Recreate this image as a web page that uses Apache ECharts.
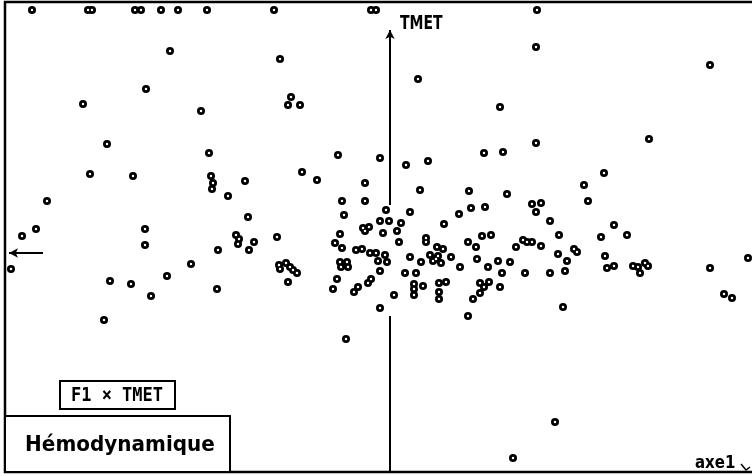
<!DOCTYPE html>
<html>
<head>
<meta charset="utf-8">
<script src="https://cdn.jsdelivr.net/npm/echarts@6/dist/echarts.min.js"></script>
<style>
html,body{margin:0;padding:0;background:#fff;}
#chart{width:752px;height:476px;}
</style>
</head>
<body>
<div id="chart"></div>
<script>
// Axis ranges (F1 = axe1, horizontal; TMET vertical)
const xRange = [-3.85, 3.62];
const yRange = [-2.19, 2.51];

// Individuals clipped at the top of the frame: [F1, TMET]
const topRow = [
  [-3.58,2.43],[-3.02,2.43],[-2.98,2.43],[-2.55,2.43],[-2.49,2.43],[-2.29,2.43],
  [-2.12,2.43],[-1.83,2.43],[-1.16,2.43],[-0.19,2.43],[-0.14,2.43],[1.47,2.43]
];

// Left half individuals (F1 < 0)
const leftPoints = [
  [-2.20,2.02],[-1.10,1.94],[-2.44,1.64],[-3.07,1.49],[-1.89,1.42],[-0.99,1.56],
  [-1.02,1.48],[-0.90,1.48],[-2.83,1.09],[-1.81,1.00],[-0.52,0.98],[-0.10,0.95],
  [-3.00,0.79],[-2.57,0.77],[-3.43,0.52],[-1.79,0.77],[-1.77,0.70],[-1.78,0.64],
  [-1.45,0.72],[-1.62,0.57],[-0.88,0.81],[-0.73,0.73],[-0.25,0.70],[-0.48,0.52],
  [-0.25,0.52],[-0.46,0.38],[-0.10,0.32],[-0.01,0.32],[-1.42,0.36],[-3.54,0.24],
  [-3.68,0.17],[-2.45,0.24],[-2.45,0.08],[-3.79,-0.16],[-1.54,0.18],[-1.51,0.14],
  [-1.52,0.09],[-1.36,0.11],[-1.41,0.03],[-1.72,0.03],[-1.13,0.16],[-0.27,0.25],
  [-0.21,0.26],[-0.25,0.22],[-0.50,0.19],[-0.55,0.10],[-0.48,0.05],[-0.34,0.03],
  [-0.28,0.04],[-0.20,0.00],[-0.14,0.00],[-0.12,-0.08],[-0.50,-0.09],[-0.43,-0.09],
  [-0.49,-0.14],[-0.42,-0.14],[-1.11,-0.12],[-1.10,-0.16],[-1.04,-0.10],[-1.00,-0.14],
  [-0.97,-0.17],[-0.93,-0.20],[-1.99,-0.11],[-2.23,-0.23],[-2.80,-0.28],[-2.59,-0.31],
  [-2.39,-0.43],[-1.73,-0.36],[-1.02,-0.29],[-0.53,-0.26],[-0.57,-0.36],[-0.36,-0.39],
  [-0.32,-0.34],[-0.22,-0.30],[-0.19,-0.26],[-0.10,-0.18],[-0.10,-0.55],[-2.86,-0.67],
  [-0.44,-0.86],[-0.07,0.20],[-0.04,0.43],[-0.05,-0.02],[-0.03,-0.09]
];

// Right half individuals (F1 > 0)
const rightPoints = [
  [1.46,2.06],[0.28,1.74],[3.20,1.88],[1.10,1.46],[2.59,1.14],[1.46,1.10],
  [1.13,1.01],[0.94,1.00],[0.38,0.92],[0.16,0.88],[0.30,0.63],[0.79,0.62],
  [1.17,0.59],[1.94,0.68],[2.14,0.80],[1.98,0.52],[1.42,0.49],[1.51,0.50],
  [1.46,0.41],[0.20,0.41],[0.69,0.39],[0.81,0.45],[0.95,0.46],[1.60,0.32],
  [2.24,0.28],[2.37,0.18],[2.11,0.16],[1.69,0.18],[0.11,0.30],[0.07,0.22],
  [0.54,0.29],[0.09,0.11],[0.36,0.15],[0.36,0.11],[0.92,0.17],[1.01,0.18],
  [0.78,0.11],[0.86,0.06],[1.33,0.13],[1.37,0.11],[1.42,0.11],[1.26,0.06],
  [1.51,0.07],[1.84,0.04],[1.87,0.01],[1.68,-0.01],[1.77,-0.08],[1.75,-0.18],
  [1.60,-0.20],[1.35,-0.20],[2.15,-0.03],[2.17,-0.15],[2.24,-0.13],[2.43,-0.13],
  [2.48,-0.14],[2.50,-0.20],[2.55,-0.10],[2.58,-0.13],[3.20,-0.15],[3.58,-0.05],
  [3.34,-0.41],[3.42,-0.45],[1.73,-0.54],[0.20,-0.04],[0.31,-0.09],[0.40,-0.02],
  [0.43,-0.08],[0.47,0.06],[0.53,0.04],[0.48,-0.03],[0.51,-0.10],[0.46,-0.06],
  [0.61,-0.04],[0.70,-0.14],[0.87,-0.06],[0.98,-0.14],[1.08,-0.08],[1.20,-0.09],
  [1.12,-0.20],[0.15,-0.20],[0.26,-0.20],[0.24,-0.31],[0.24,-0.36],[0.24,-0.42],
  [0.33,-0.33],[0.49,-0.30],[0.56,-0.29],[0.49,-0.39],[0.49,-0.46],[0.90,-0.30],
  [0.99,-0.29],[0.94,-0.34],[0.90,-0.40],[1.10,-0.34],[0.83,-0.46],[0.04,-0.42],
  [0.78,-0.63],[1.65,-1.69],[1.23,-2.05]
];

// Axis segments drawn in data coordinates
const yAxisUpper = [[0, 0.48], [0, 2.23]];
const yAxisLower = [[0, -0.63], [0, -2.19]];
const xAxisArrow = [[-3.47, 0], [-3.81, 0]];

const allPoints = topRow.concat(leftPoints, rightPoints);

const chart = echarts.init(document.getElementById('chart'), null, {renderer: 'canvas'});
const titleFont = "'DejaVu Sans', sans-serif";

chart.setOption({
  animation: false,
  backgroundColor: '#fff',
  grid: {left: 5, right: 0, top: 2, bottom: 4},
  xAxis: {type: 'value', min: xRange[0], max: xRange[1], show: false},
  yAxis: {type: 'value', min: yRange[0], max: yRange[1], show: false},
  series: [
    {
      type: 'scatter',
      data: allPoints,
      symbol: 'circle',
      symbolSize: 8,
      itemStyle: {color: '#000', opacity: 1},
      silent: true,
      z: 3,
      markLine: {
        silent: true,
        animation: false,
        label: {show: false},
        lineStyle: {color: '#000', width: 2, type: 'solid'},
        symbolSize: [7, 9],
        data: [
          [{coord: yAxisUpper[0], symbol: 'none'}, {coord: yAxisUpper[1], symbol: 'arrow'}],
          [{coord: yAxisLower[0], symbol: 'none'}, {coord: yAxisLower[1], symbol: 'none'}],
          [{coord: xAxisArrow[0], symbol: 'none'}, {coord: xAxisArrow[1], symbol: 'arrow'}]
        ]
      }
    },
    {
      type: 'scatter',
      data: allPoints,
      symbol: 'circle',
      symbolSize: 2.5,
      itemStyle: {color: '#fff', opacity: 1},
      silent: true,
      z: 4
    }
  ],
  graphic: [
    {type: 'polyline', shape: {points: [[752, 2], [5, 2], [5, 472], [752, 472]]},
     style: {stroke: '#000', lineWidth: 2.5, fill: null}, z: 10, silent: true},
    {type: 'rect', shape: {x: 5, y: 416, width: 225, height: 56},
     style: {fill: '#fff', stroke: '#000', lineWidth: 2}, z: 11, silent: true},
    {type: 'text', x: 120, y: 445, scaleY: 1.1, z: 12, silent: true,
     style: {text: 'Hémodynamique', font: "bold 20px " + titleFont, fill: '#000',
             textAlign: 'center', textVerticalAlign: 'middle'}},
    {type: 'rect', shape: {x: 60, y: 381, width: 115, height: 28},
     style: {fill: '#fff', stroke: '#000', lineWidth: 2}, z: 11, silent: true},
    {type: 'text', x: 117, y: 396, scaleY: 1.15, z: 12, silent: true,
     style: {text: 'F1 × TMET', font: "bold 17px 'DejaVu Sans Mono', monospace", fill: '#000',
             textAlign: 'center', textVerticalAlign: 'middle'}},
    {type: 'text', x: 400, y: 24, scaleY: 1.35, z: 12, silent: true,
     style: {text: 'TMET', font: "bold 14px " + titleFont, fill: '#000',
             textAlign: 'left', textVerticalAlign: 'middle'}},
    {type: 'text', x: 695, y: 464, scaleY: 1.15, z: 12, silent: true,
     style: {text: 'axe1', font: "bold 15px " + titleFont, fill: '#000',
             textAlign: 'left', textVerticalAlign: 'middle'}},
    {type: 'polyline', shape: {points: [[741, 464], [746, 470], [750, 467]]},
     style: {stroke: '#000', lineWidth: 1.5, fill: null}, z: 12, silent: true}
  ]
});
</script>
</body>
</html>
